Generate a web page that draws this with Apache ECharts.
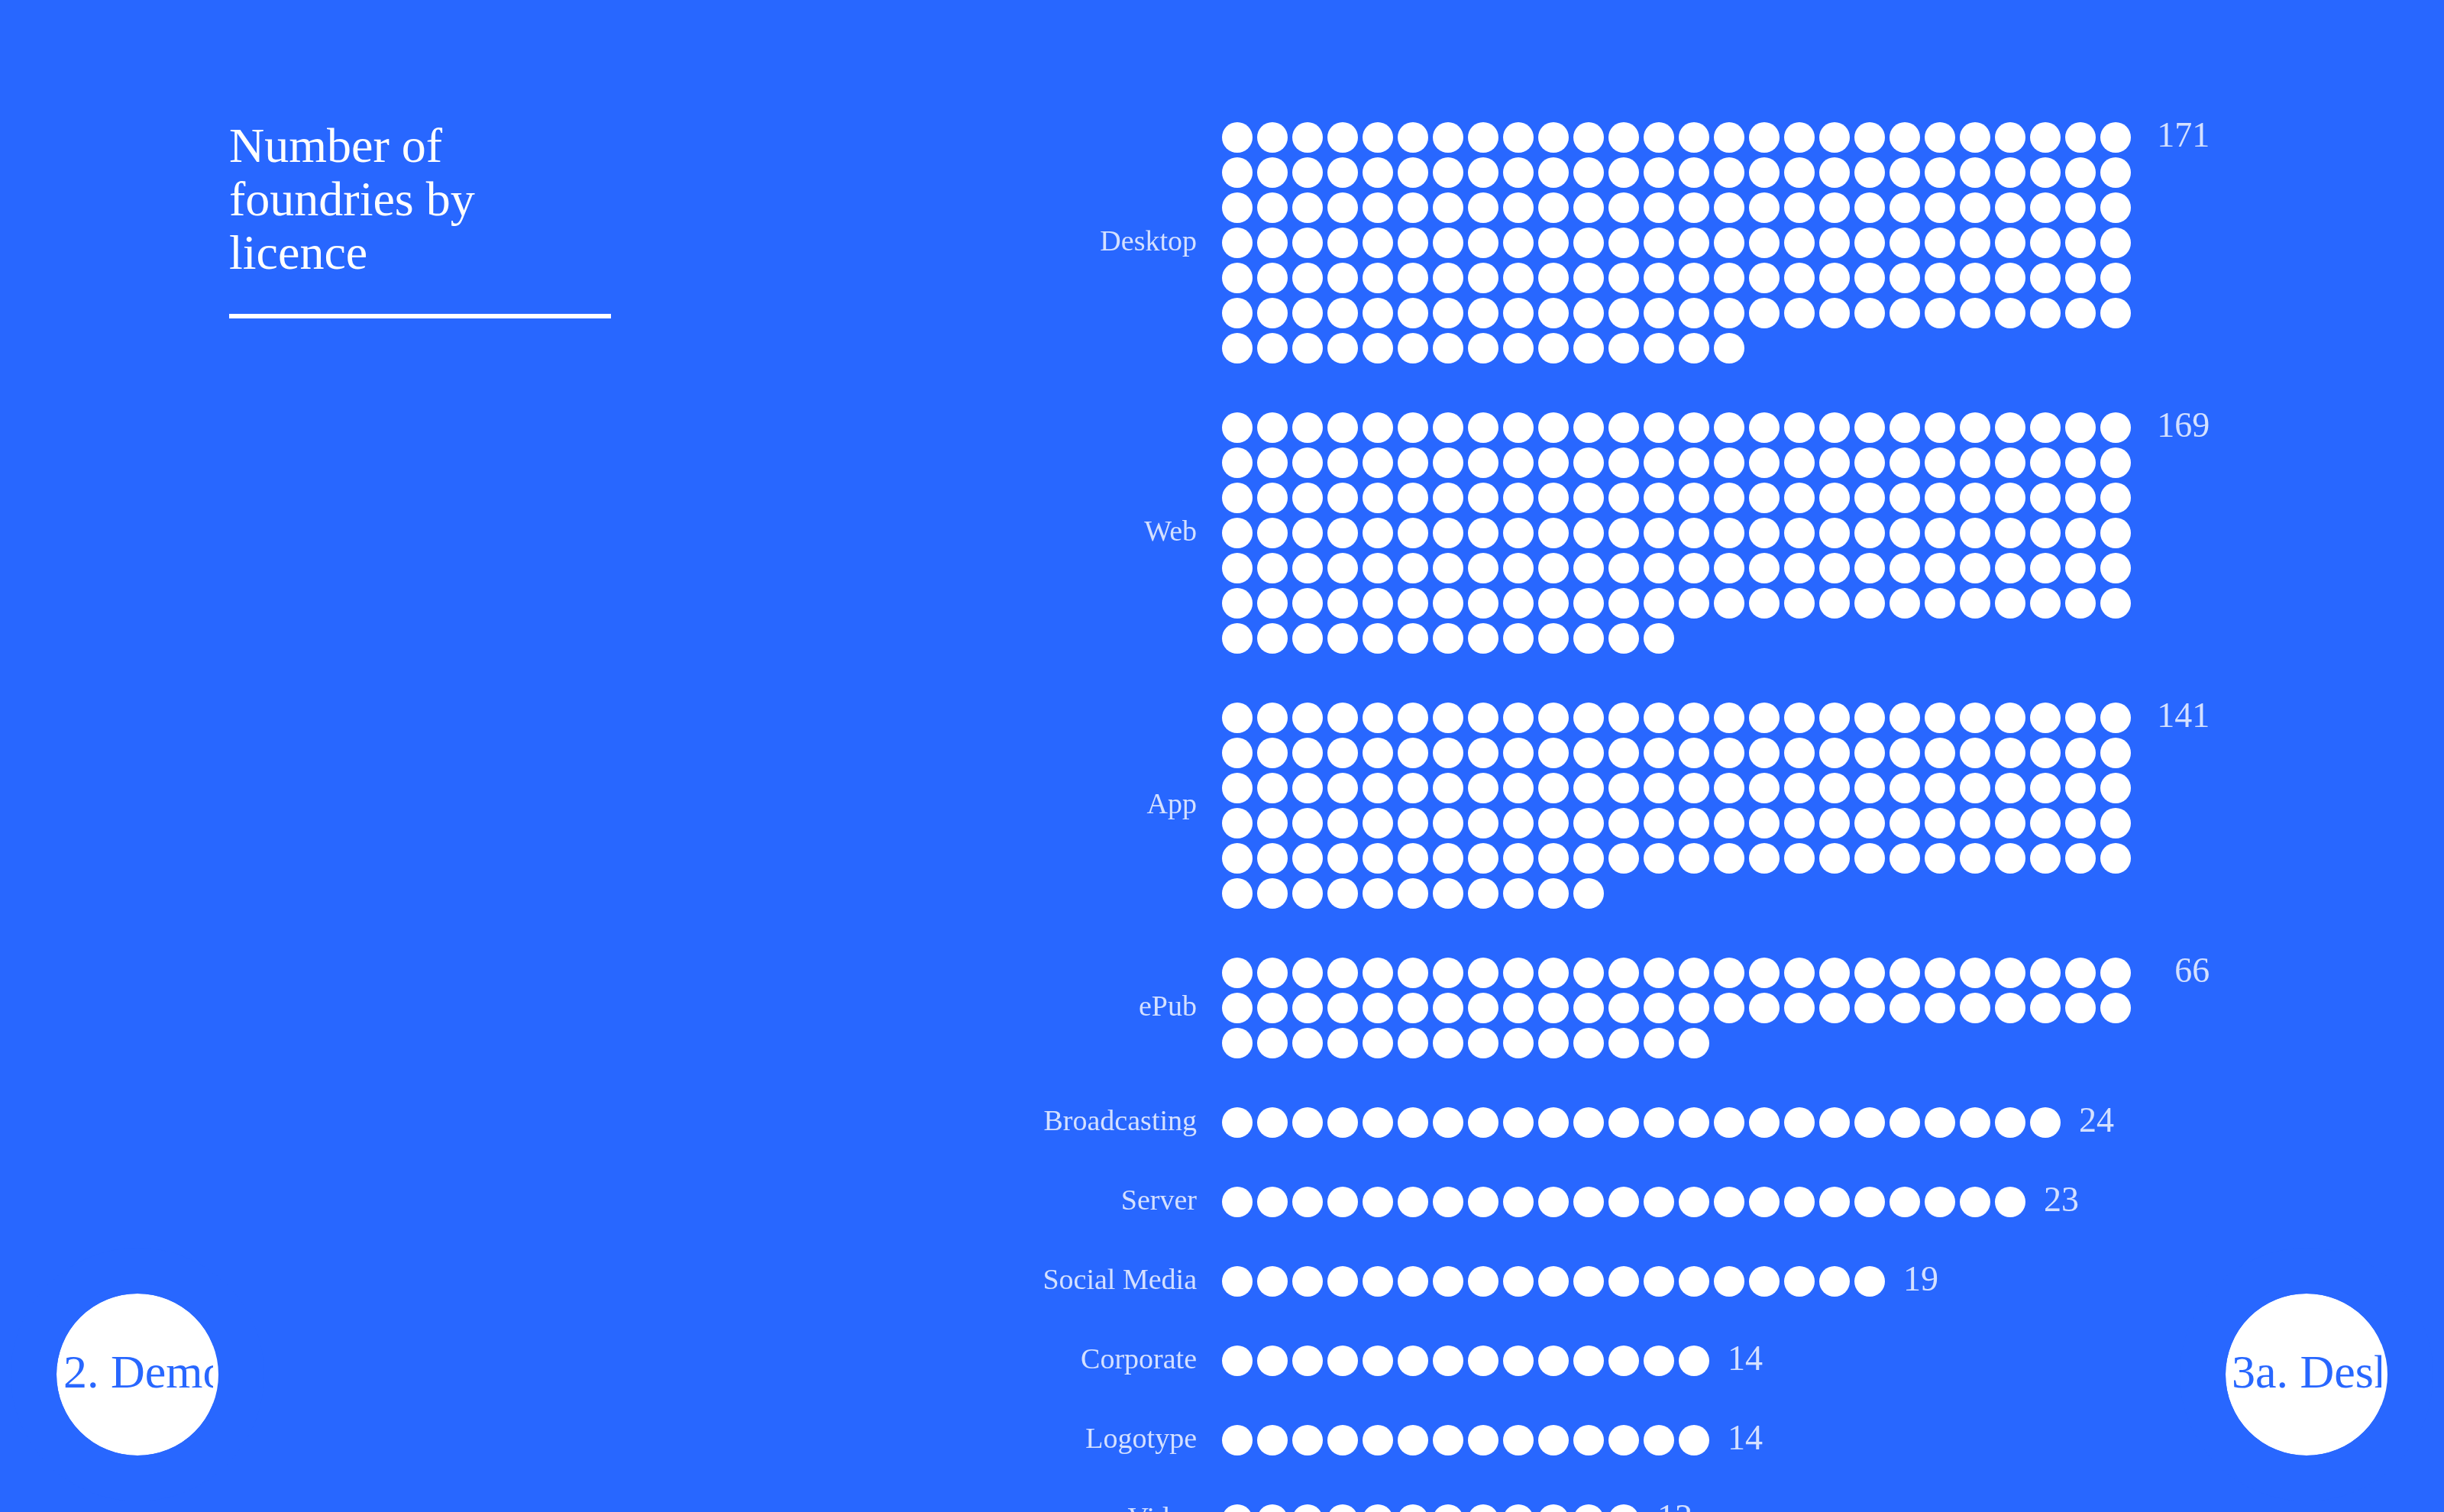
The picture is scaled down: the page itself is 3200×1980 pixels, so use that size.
<!DOCTYPE html>
<html>
<head>
<meta charset="utf-8">
<style>
  html, body { margin: 0; padding: 0; background: #2867ff; }
  #chart { width: 3200px; height: 1980px; }
</style>
<script src="https://cdn.jsdelivr.net/npm/echarts@6/dist/echarts.min.js"></script>
</head>
<body>
<div id="chart"></div>
<script>
// ---- data ----
const categories = ['Desktop', 'Web', 'App', 'ePub', 'Broadcasting', 'Server', 'Social Media', 'Corporate', 'Logotype', 'Video'];
const counts = [171, 169, 141, 66, 24, 23, 19, 14, 14, 12];
const dotsPerRow = 26;
const titleLines = ['Number of', 'foundries by', 'licence'];
const prevSection = '2. Demo';
const nextSection = '3a. Desk';

// ---- layout (styling only) ----
const BG = '#2867ff';
const FONT = '"Liberation Serif", "DejaVu Serif", serif';
const PITCH = 46;            // px per column / row
const DOT = 40;              // dot diameter
const GROUP_STEP = 104 / PITCH; // distance between last row of a group and first row of next
const FIRST_X = 1620, FIRST_Y = 180;
const VALUE_RIGHT_COL = 27.68;

// build positions from counts
const dots = [], names = [], values = [];
let start = 0;
categories.forEach((cat, g) => {
  const n = counts[g];
  const rows = Math.ceil(n / dotsPerRow);
  for (let i = 0; i < n; i++) {
    dots.push([i % dotsPerRow, start + Math.floor(i / dotsPerRow)]);
  }
  names.push({ value: [0, start + (rows - 1) / 2], name: cat });
  if (rows > 1) {
    values.push({ value: [VALUE_RIGHT_COL, start], name: String(n),
      label: { position: 'left', distance: 0 } });
  } else {
    values.push({ value: [n, start], name: String(n),
      label: { position: 'right', distance: -2 } });
  }
  start += (rows - 1) + GROUP_STEP;
});
const lastY = start - GROUP_STEP;

const X_MIN = -1, X_MAX = 29, Y_MIN = -1, Y_MAX = Math.ceil(lastY) + 1;

const chart = echarts.init(document.getElementById('chart'), null, { renderer: 'canvas' });

function clippedBadge(cx, cy, r, text, textLeft, clipRight) {
  return [
    { type: 'circle', shape: { cx, cy, r }, style: { fill: '#ffffff' }, z: 10 },
    { type: 'text', x: textLeft, y: cy + 1,
      style: { text, fill: BG, font: '62px ' + FONT, align: 'left', verticalAlign: 'middle' }, z: 11 },
    { type: 'rect', shape: { x: clipRight, y: cy - 60, width: 40, height: 120 },
      style: { fill: '#ffffff' }, z: 12 },
    { type: 'circle', shape: { cx, cy, r: r + 30 },
      style: { fill: 'none', stroke: BG, lineWidth: 60 }, z: 13 }
  ];
}

const option = {
  backgroundColor: BG,
  animation: false,
  grid: {
    left: FIRST_X + X_MIN * PITCH,
    top: FIRST_Y + Y_MIN * PITCH,
    width: (X_MAX - X_MIN) * PITCH,
    height: (Y_MAX - Y_MIN) * PITCH,
    containLabel: false,
    outerBoundsMode: 'none'
  },
  xAxis: { type: 'value', min: X_MIN, max: X_MAX, show: false },
  yAxis: { type: 'value', min: Y_MIN, max: Y_MAX, inverse: true, show: false },
  series: [
    {
      name: 'dots', type: 'scatter', data: dots, symbol: 'circle', symbolSize: DOT,
      itemStyle: { color: '#ffffff', opacity: 1 }, clip: false, silent: true
    },
    {
      name: 'names', type: 'scatter', data: names, symbolSize: 0, clip: false, silent: true,
      label: {
        show: true, position: 'left', distance: 53, formatter: p => p.name,
        color: '#ffffff', fontFamily: FONT, fontSize: 38, align: 'right', verticalAlign: 'middle'
      }
    },
    {
      name: 'values', type: 'scatter', data: values, symbolSize: 0, clip: false, silent: true,
      label: {
        show: true, formatter: p => p.name,
        color: '#ffffff', fontFamily: FONT, fontSize: 46, verticalAlign: 'middle'
      }
    }
  ],
  graphic: [
    {
      type: 'text', x: 300, y: 160,
      style: { text: titleLines.join('\n'), fill: '#ffffff', font: '64px ' + FONT,
        lineHeight: 70, align: 'left', verticalAlign: 'top' }
    },
    { type: 'rect', shape: { x: 300, y: 411, width: 500, height: 6 }, style: { fill: '#ffffff' } },
    ...clippedBadge(180, 1800, 106, prevSection, 83, 279),
    ...clippedBadge(3020, 1800, 106, nextSection, 2922, 3118)
  ]
};
chart.setOption(option);
</script>
</body>
</html>
